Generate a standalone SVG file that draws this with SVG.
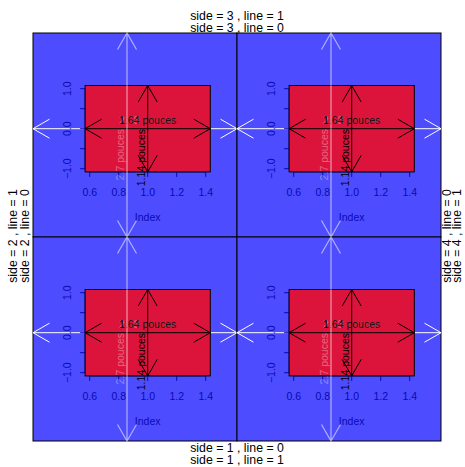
<svg xmlns="http://www.w3.org/2000/svg" width="465" height="467" viewBox="0 0 465 467">
<style>
text{font-family:"Liberation Sans",Arial,sans-serif}
.outer{font-size:12.3px;fill:#000}
.ax{font-size:10.5px;fill:#0a0ab0}
.lbl{font-size:10.5px;fill:#000}
.wl{font-size:10.5px;fill:#fff;fill-opacity:0.35}
.fig{fill:#4d4dff;stroke:#000;stroke-width:1}
.plot{fill:#dc143c;stroke:#000;stroke-width:1}
.tick{stroke:#0a0ab0;stroke-width:1;fill:none}
.wh{stroke:#fff;stroke-width:1;fill:none}
.wv{stroke:#fff;stroke-opacity:0.55;stroke-width:1.2;fill:none}
.bk{stroke:#000;stroke-width:1;fill:none}
</style>
<defs>
<g id="panel">
  <rect class="fig" x="33" y="33" width="204" height="204"/>
  <path class="wh" d="M33,128.7H237M49.5,119.2L33,128.7L49.5,138.2M220.5,119.2L237,128.7L220.5,138.2"/>
  <path class="tick" d="M85.1,88.7V168.7M85.1,88.7H80.1M85.1,108.7H80.1M85.1,128.7H80.1M85.1,148.7H80.1M85.1,168.7H80.1M89.7,171.9H205.7M89.7,171.9V176.9M118.7,171.9V176.9M147.7,171.9V176.9M176.7,171.9V176.9M205.7,171.9V176.9"/>
  <text class="ax" text-anchor="middle" x="89.7" y="195.5">0.6</text>
  <text class="ax" text-anchor="middle" x="118.7" y="195.5">0.8</text>
  <text class="ax" text-anchor="middle" x="147.7" y="195.5">1.0</text>
  <text class="ax" text-anchor="middle" x="176.7" y="195.5">1.2</text>
  <text class="ax" text-anchor="middle" x="205.7" y="195.5">1.4</text>
  <text class="ax" text-anchor="middle" transform="translate(71,88.7) rotate(-90)">1.0</text>
  <text class="ax" text-anchor="middle" transform="translate(71,128.7) rotate(-90)">0.0</text>
  <text class="ax" text-anchor="middle" transform="translate(71,168.7) rotate(-90)">−1.0</text>
  <text class="ax" text-anchor="middle" x="147.7" y="221">Index</text>
  <rect class="plot" x="85.1" y="85.5" width="125.2" height="86.4"/>
  <text class="wl" text-anchor="middle" x="147.7" y="123.7">2.68 pouces</text>
  <path class="bk" d="M85.1,128.7H210.3M101.6,119.2L85.1,128.7L101.6,138.2M193.8,119.2L210.3,128.7L193.8,138.2"/>
  <path class="bk" d="M147.7,85.5V171.9M138.2,102L147.7,85.5L157.2,102M138.2,155.4L147.7,171.9L157.2,155.4"/>
  <text class="lbl" text-anchor="middle" x="147.7" y="123.7">1.64 pouces</text>
  <text class="lbl" text-anchor="end" transform="translate(145,129) rotate(-90)">1.14 pouces</text>
  <path class="wv" d="M127,33V237M117.5,49.5L127,33L136.5,49.5M117.5,220.5L127,237L136.5,220.5"/>
  <text class="wl" text-anchor="end" transform="translate(124,129) rotate(-90)">2.7 pouces</text>
</g>
</defs>
<g id="fig-top-left"><use href="#panel"/></g>
<g id="fig-top-right"><use href="#panel" transform="translate(204,0)"/></g>
<g id="fig-bottom-left"><use href="#panel" transform="translate(0,204)"/></g>
<g id="fig-bottom-right"><use href="#panel" transform="translate(204,204)"/></g>
<g id="outer-labels">
  <text class="outer" text-anchor="middle" x="237" y="19.5">side = 3 , line = 1</text>
  <text class="outer" text-anchor="middle" x="237" y="31.8">side = 3 , line = 0</text>
  <text class="outer" text-anchor="middle" x="237" y="452.3">side = 1 , line = 0</text>
  <text class="outer" text-anchor="middle" x="237" y="464.3">side = 1 , line = 1</text>
  <text class="outer" text-anchor="middle" transform="translate(17.3,236) rotate(-90)">side = 2 , line = 1</text>
  <text class="outer" text-anchor="middle" transform="translate(28.5,236) rotate(-90)">side = 2 , line = 0</text>
  <text class="outer" text-anchor="middle" transform="translate(450.7,236) rotate(-90)">side = 4 , line = 0</text>
  <text class="outer" text-anchor="middle" transform="translate(461.2,236) rotate(-90)">side = 4 , line = 1</text>
</g>
</svg>
